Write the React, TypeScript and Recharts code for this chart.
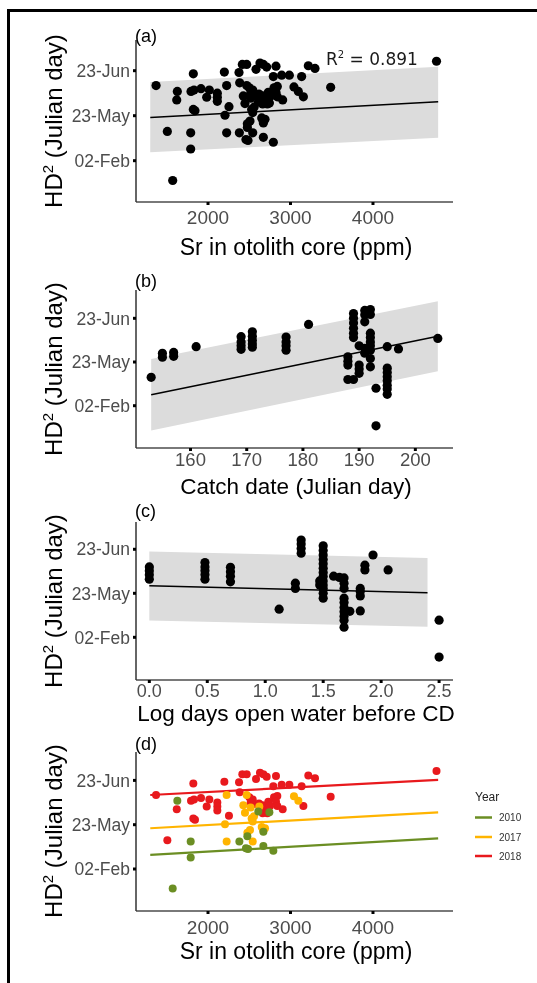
import React from 'react';
import { ComposedChart, Scatter, Line, Area, XAxis, YAxis } from 'recharts';

// ---------- tick labels ----------
const yTickValues = [0, 10, 20];
const yTickLabels = ['02-Feb', '23-May', '23-Jun'];
const srTicks = [2000, 3000, 4000];
const catchTicks = [160, 170, 180, 190, 200];
const logTicks = [0, 0.5, 1, 1.5, 2, 2.5];
const years = ['2010', '2017', '2018'];

// ---------- Sr vs HD (panels a, d) ----------
const sr2018 = [1370, 1507, 1822, 1794, 1830, 1621, 1822, 1842, 1915, 2016, 1984, 2113, 2113, 2113, 2198, 2254, 2376, 2416, 2469, 2384, 2582, 2630, 2671, 2711, 2824, 2792, 2893, 2986, 3135, 3216, 3297, 3156, 2905, 2501, 2542, 2517, 2558, 2618, 2663, 2639, 2703, 2719, 2663, 2731, 2800, 2840, 2824, 2840, 2752, 3487, 4770];
const hd2018 = [16.7, 6.5, 19.3, 15.4, 15.7, 13.5, 11.4, 11.1, 16.0, 15.7, 14.1, 15.0, 14.1, 13.2, 19.7, 12.0, 19.6, 21.4, 21.4, 17.3, 20.3, 21.7, 21.4, 20.8, 21.0, 18.7, 19.0, 19.0, 18.7, 21.1, 20.5, 14.2, 13.5, 16.2, 15.7, 15.0, 14.7, 14.8, 14.4, 13.3, 13.3, 12.6, 12.6, 15.2, 16.2, 16.5, 15.2, 14.2, 14.2, 16.3, 22.1];
const sr2017 = [2226, 2206, 2226, 2428, 2448, 2469, 2517, 2529, 2558, 2542, 2509, 2477, 2542, 2651, 2691, 2671, 2622, 3042, 3095];
const hd2017 = [16.7, 10.1, 6.2, 14.4, 12.7, 16.7, 13.9, 11.4, 11.9, 10.7, 8.8, 8.2, 6.2, 9.5, 9.2, 8.7, 14.1, 16.4, 15.4];
const sr2010 = [1628, 1790, 1790, 1572, 2380, 2477, 2460, 2485, 2671, 2671, 2792, 2610, 2744];
const hd2010 = [15.4, 6.2, 2.6, -4.4, 6.2, 7.4, 4.7, 4.5, 5.2, 8.4, 4.1, 13.0, 12.8];

// fits panel (a)
const fitSrX = [1300, 4790];
const fitSrY = [9.6, 13.1];
const bandSrLo = [1.9, 5.1];
const bandSrHi = [17.5, 20.9];
// fits panel (d) by year
const fit2010 = [3.2, 6.9];
const fit2017 = [9.2, 12.8];
const fit2018 = [16.7, 20.1];

// ---------- Catch date vs HD (panel b) ----------
const catchDay = [153, 155, 155, 157, 157, 161, 169, 169, 169, 169, 171, 171, 171, 171, 171, 177, 177, 177, 177, 181, 189, 189, 189, 189, 189, 189, 188, 188, 188, 188, 189, 190, 190, 190, 190, 191, 191, 191, 191, 191, 192, 192, 192, 192, 192, 192, 192, 192, 192, 193, 193, 195, 195, 195, 195, 195, 195, 195, 195, 197, 204];
const hdCatch = [6.5, 12.0, 11.1, 12.2, 11.3, 13.5, 15.8, 14.6, 13.7, 12.9, 16.9, 15.9, 15.0, 14.1, 13.4, 15.7, 14.6, 13.7, 12.7, 18.6, 21.1, 20.0, 18.9, 17.7, 16.6, 15.6, 11.2, 10.2, 9.3, 6.0, 6.0, 9.3, 8.4, 7.4, 13.7, 21.8, 20.8, 19.2, 13.1, 12.0, 22.0, 20.9, 16.6, 15.6, 14.6, 13.7, 12.7, 10.8, 8.9, 4.0, -4.6, 13.5, 8.6, 7.6, 6.6, 5.7, 4.7, 3.8, 2.6, 13.0, 15.4];
const fitCatchX = [153, 204];
const fitCatchY = [2.5, 15.9];
const bandCatchLo = [-5.7, 7.9];
const bandCatchHi = [10.7, 23.9];

// ---------- Log days open water vs HD (panel c) ----------
const logDays = [0, 0, 0, 0, 0.48, 0.48, 0.48, 0.48, 0.48, 0.7, 0.7, 0.7, 0.7, 1.12, 1.26, 1.26, 1.31, 1.31, 1.31, 1.31, 1.5, 1.5, 1.5, 1.5, 1.5, 1.5, 1.5, 1.5, 1.5, 1.5, 1.5, 1.5, 1.5, 1.47, 1.47, 1.59, 1.64, 1.68, 1.68, 1.68, 1.68, 1.68, 1.68, 1.68, 1.68, 1.68, 1.68, 1.73, 1.82, 1.82, 1.82, 1.82, 1.86, 1.86, 1.93, 2.06, 2.5, 2.5];
const hdLog = [16.0, 15.1, 14.2, 13.2, 17.0, 16.0, 15.1, 14.2, 13.2, 15.9, 14.9, 13.9, 12.6, 6.4, 12.3, 11.1, 22.1, 21.2, 20.2, 19.1, 20.8, 19.7, 18.7, 17.7, 16.7, 15.7, 14.7, 13.8, 12.8, 11.9, 11.1, 10.0, 8.9, 12.8, 11.9, 13.9, 13.6, 13.5, 12.3, 11.1, 8.9, 7.9, 6.8, 5.8, 4.8, 3.9, 2.3, 5.9, 11.1, 10.4, 9.4, 6.0, 16.4, 15.3, 18.7, 15.3, 3.9, -4.5];
const fitLogX = [0, 2.4];
const fitLogY = [11.7, 10.1];
const bandLogLo = [3.8, 2.4];
const bandLogHi = [19.5, 18.0];

const COLORS: Record<string, string> = { '2010': '#6B8E23', '2017': '#FFB400', '2018': '#E8191D' };

const pts = (xs: number[], ys: number[]) => xs.map((x, i) => ({ x, y: ys[i] }));
const bandRows = (xs: number[], fit: number[], lo: number[], hi: number[]) =>
  xs.map((x, i) => ({ x, fit: fit[i], band: [lo[i], hi[i]] }));

const FONT = '"Liberation Sans", Arial, Helvetica, sans-serif';
const W = 529;
const PLOT_LEFT = 128;
const PLOT_RIGHT = 445;
const XAXIS_H = 40;

const dotShape = (color: string, r: number) => (props: any) =>
  <circle cx={props.cx} cy={props.cy} r={r} fill={color} />;

type PanelProps = {
  top: number;
  plotH: number;
  xDomain: [number, number];
  yDomain: [number, number];
  xTicks: number[];
  xFmt?: (v: number) => string;
  tickMargin: number;
  xFont?: number;
  rows: any[];
  children: React.ReactNode;
};

function Panel({ top, plotH, xDomain, yDomain, xTicks, xFmt, tickMargin, xFont = 19, rows, children }: PanelProps) {
  return (
    <div style={{ position: 'absolute', left: 0, top }}>
      <ComposedChart
        width={W}
        height={plotH + XAXIS_H}
        data={rows}
        margin={{ top: 0, right: W - PLOT_RIGHT, bottom: 0, left: 0 }}
      >
        <XAxis
          type="number"
          dataKey="x"
          domain={xDomain}
          allowDataOverflow
          ticks={xTicks}
          interval={0}
          tickFormatter={xFmt}
          height={XAXIS_H}
          axisLine={{ stroke: '#4d4d4d', strokeWidth: 1.5 }}
          tickLine={{ stroke: '#000', strokeWidth: 3 }}
          tickSize={3}
          tickMargin={tickMargin}
          tick={{ fill: '#4d4d4d', fontSize: xFont }}
        />
        <YAxis
          type="number"
          domain={yDomain}
          allowDataOverflow
          ticks={yTickValues}
          interval={0}
          tickFormatter={(v: number) => yTickLabels[yTickValues.indexOf(v)]}
          width={PLOT_LEFT}
          axisLine={{ stroke: '#333', strokeWidth: 1.5 }}
          tickLine={{ stroke: '#000', strokeWidth: 3 }}
          tickSize={3}
          tickMargin={3}
          tick={{ fill: '#4d4d4d', fontSize: 17.5 }}
        />
        {children}
      </ComposedChart>
    </div>
  );
}

function YTitle({ x, cy }: { x: number; cy: number }) {
  return (
    <text x={x} y={cy} transform={`rotate(-90 ${x} ${cy})`} textAnchor="middle" fontSize={24} fill="#000">
      HD<tspan dy={-9} fontSize={15}>2</tspan>
      <tspan dy={9}> (Julian day)</tspan>
    </text>
  );
}

export default function App() {
  const rowsA = bandRows(fitSrX, fitSrY, bandSrLo, bandSrHi);
  const rowsB = bandRows(fitCatchX, fitCatchY, bandCatchLo, bandCatchHi);
  const rowsC = bandRows(fitLogX, fitLogY, bandLogLo, bandLogHi);
  const rowsD = fitSrX.map((x, i) => ({ x, g: fit2010[i], o: fit2017[i], r: fit2018[i] }));
  const allSr = pts([...sr2010, ...sr2017, ...sr2018], [...hd2010, ...hd2017, ...hd2018]);

  const legendYs = [809.5, 829, 848];

  return (
    <div style={{ position: 'relative', width: W, height: 967, fontFamily: FONT, background: '#fff' }}>
      <div style={{ position: 'fixed', left: 7, top: 9, width: 3, height: 974, background: '#000' }} />
      <div style={{ position: 'fixed', left: 7, top: 9, width: 530, height: 3, background: '#000' }} />

      {/* (a) */}
      <Panel top={32} plotH={162} xDomain={[1127, 4970]} yDomain={[-9.18, 26.82]} xTicks={srTicks} tickMargin={6} rows={rowsA}>
        <Area dataKey="band" type="linear" stroke="none" fill="#DCDCDC" fillOpacity={1} isAnimationActive={false} />
        <Line dataKey="fit" type="linear" stroke="#000" strokeWidth={1.5} dot={false} isAnimationActive={false} />
        <Scatter data={allSr} dataKey="y" shape={dotShape('#000', 4.6)} isAnimationActive={false} />
      </Panel>

      {/* (b) */}
      <Panel top={282} plotH={158} xDomain={[150.3, 206.7]} yDomain={[-9.68, 26.48]} xTicks={catchTicks} tickMargin={2} xFont={18.5} rows={rowsB}>
        <Area dataKey="band" type="linear" stroke="none" fill="#DCDCDC" fillOpacity={1} isAnimationActive={false} />
        <Line dataKey="fit" type="linear" stroke="#000" strokeWidth={1.5} dot={false} isAnimationActive={false} />
        <Scatter data={pts(catchDay, hdCatch)} dataKey="y" shape={dotShape('#000', 4.6)} isAnimationActive={false} />
      </Panel>

      {/* (c) */}
      <Panel top={514} plotH={158} xDomain={[-0.115, 2.62]} yDomain={[-9.7, 26.2]} xTicks={logTicks} xFmt={(v) => v.toFixed(1)} tickMargin={1.5} xFont={18} rows={rowsC}>
        <Area dataKey="band" type="linear" stroke="none" fill="#DCDCDC" fillOpacity={1} isAnimationActive={false} />
        <Line dataKey="fit" type="linear" stroke="#000" strokeWidth={1.5} dot={false} isAnimationActive={false} />
        <Scatter data={pts(logDays, hdLog)} dataKey="y" shape={dotShape('#000', 4.6)} isAnimationActive={false} />
      </Panel>

      {/* (d) */}
      <Panel top={744} plotH={159} xDomain={[1127, 4970]} yDomain={[-9.48, 26.41]} xTicks={srTicks} tickMargin={6.5} rows={rowsD}>
        <Line dataKey="g" type="linear" stroke={COLORS['2010']} strokeWidth={2.2} dot={false} isAnimationActive={false} />
        <Line dataKey="o" type="linear" stroke={COLORS['2017']} strokeWidth={2.2} dot={false} isAnimationActive={false} />
        <Line dataKey="r" type="linear" stroke={COLORS['2018']} strokeWidth={2.2} dot={false} isAnimationActive={false} />
        <Scatter data={pts(sr2018, hd2018)} dataKey="y" shape={dotShape(COLORS['2018'], 4)} isAnimationActive={false} />
        <Scatter data={pts(sr2017, hd2017)} dataKey="y" shape={dotShape(COLORS['2017'], 4)} isAnimationActive={false} />
        <Scatter data={pts(sr2010, hd2010)} dataKey="y" shape={dotShape(COLORS['2010'], 4)} isAnimationActive={false} />
      </Panel>

      <svg width={W} height={967} style={{ position: 'absolute', left: 0, top: 0, pointerEvents: 'none' }} fontFamily={FONT}>
        {/* panel letters */}
        <text x={127} y={34} fontSize={18} fill="#000">(a)</text>
        <text x={127} y={279} fontSize={18} fill="#000">(b)</text>
        <text x={127} y={509} fontSize={18} fill="#000">(c)</text>
        <text x={127} y={742} fontSize={18} fill="#000">(d)</text>

        {/* R squared */}
        <text x={318} y={57} fontSize={17} fill="#1a1a1a" fontFamily='"DejaVu Sans", Verdana, sans-serif'>
          R<tspan dy={-7} fontSize={10}>2</tspan><tspan dy={7}> = 0.891</tspan>
        </text>

        {/* y titles */}
        <YTitle x={54} cy={113} />
        <YTitle x={54} cy={361} />
        <YTitle x={54} cy={593} />
        <YTitle x={54} cy={823} />

        {/* x titles */}
        <text x={288} y={247} fontSize={23} textAnchor="middle" fill="#000">Sr in otolith core (ppm)</text>
        <text x={288} y={486} fontSize={22.5} textAnchor="middle" fill="#000">Catch date (Julian day)</text>
        <text x={288} y={713} fontSize={22.5} textAnchor="middle" fill="#000">Log days open water before CD</text>
        <text x={288} y={951} fontSize={23} textAnchor="middle" fill="#000">Sr in otolith core (ppm)</text>

        {/* legend */}
        <text x={467} y={793} fontSize={12} fill="#222">Year</text>
        {years.map((yr, i) => (
          <g key={yr}>
            <line x1={467} x2={484} y1={legendYs[i]} y2={legendYs[i]} stroke={COLORS[yr]} strokeWidth={2.5} />
            <text x={491} y={legendYs[i] + 3.5} fontSize={10} fill="#333">{yr}</text>
          </g>
        ))}
      </svg>
    </div>
  );
}
